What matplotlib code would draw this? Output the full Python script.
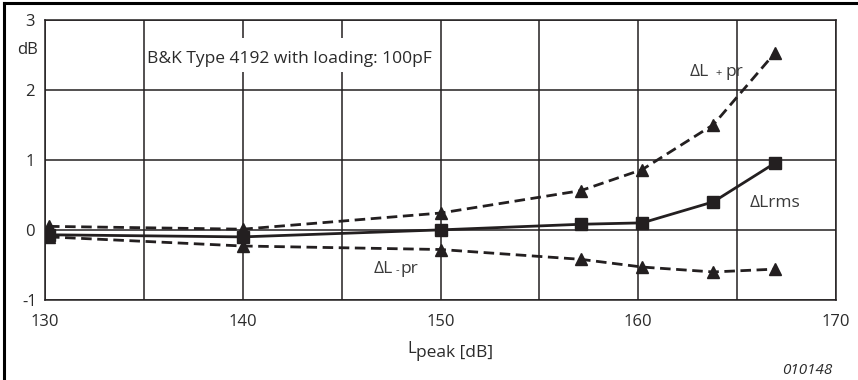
import matplotlib
matplotlib.use('Agg')
import matplotlib.pyplot as plt
from matplotlib.patches import Rectangle
from matplotlib.lines import Line2D

plt.rcParams.update({
    'font.family': ['Open Sans', 'DejaVu Sans'],
    'font.size': 12,
    'text.color': '#2a2a2a',
    'xtick.color': '#2a2a2a',
    'ytick.color': '#2a2a2a',
    'axes.unicode_minus': False,
})

# data
l_peak = [130.2, 140, 150, 157.1, 160.2, 163.8, 166.9]
d_rms = [-0.07, -0.1, 0.0, 0.08, 0.1, 0.4, 0.95]
d_plus_pr = [0.05, 0.01, 0.24, 0.56, 0.86, 1.5, 2.52]
d_minus_pr = [-0.1, -0.23, -0.28, -0.42, -0.53, -0.6, -0.56]

x_ticks = [130, 140, 150, 160, 170]
x_grid = [135, 145, 155, 165]
y_ticks = [-1, 0, 1, 2, 3]

W, H = 858, 380
fig = plt.figure(figsize=(W / 100, H / 100), dpi=100)
ax = fig.add_axes([45 / W, 1 - 300 / H, 791 / W, 280.5 / H])

ink = '#231f20'
ax.set_xlim(130, 170)
ax.set_ylim(-1, 3)
ax.set_xticks(x_ticks)
ax.set_xticks(x_grid, minor=True)
ax.set_yticks(y_ticks)
ax.tick_params(which='both', length=0)
ax.tick_params(axis='x', pad=10, labelsize=12)
ax.tick_params(axis='y', pad=11, labelsize=12)
for lab in ax.get_yticklabels():
    lab.set_horizontalalignment('center')
ax.grid(True, which='both', color=ink, linewidth=1.1)
ax.set_axisbelow(True)
for s in ax.spines.values():
    s.set_color(ink)
    s.set_linewidth(1.1)

# curves
ax.plot(l_peak, d_rms, color=ink, lw=2.0, marker='s', ms=9, zorder=4)
ax.plot(l_peak, d_plus_pr, color=ink, lw=2.0, dashes=(3.8, 2.0),
        marker='^', ms=9, zorder=4)
ax.plot(l_peak, d_minus_pr, color=ink, lw=2.0, dashes=(3.8, 2.0),
        marker='^', ms=9, zorder=4)

# header box
ax.add_patch(Rectangle((135.08, 2.25), 14.84, 0.49, facecolor='white',
                       edgecolor='none', zorder=2))
ax.text(135.15, 2.43, 'B&K Type 4192 with loading: 100pF', fontsize=12.5,
        va='center', ha='left', zorder=3)

# curve labels
lab_c = '#3a3a3a'
ax.text(162.6, 2.19, '\u0394L', fontsize=12.5, va='baseline', color=lab_c)
ax.text(164.05, 2.2, '+', fontsize=8, va='baseline', ha='center', color=lab_c)
ax.text(164.4, 2.19, 'pr', fontsize=12.5, va='baseline', color=lab_c)

ax.text(146.6, -0.62, '\u0394L', fontsize=12.5, va='baseline', color=lab_c)
ax.text(147.8, -0.61, '-', fontsize=8, va='baseline', ha='center', color=lab_c)
ax.text(148.0, -0.62, 'pr', fontsize=12.5, va='baseline', color=lab_c)

ax.text(165.65, 0.33, '\u0394Lrms', fontsize=12.5, va='baseline', color=lab_c)

# unit and axis label
fig.text(27 / W, 1 - 50 / H, 'dB', fontsize=12, ha='center', va='center')
fig.text(407 / W, 1 - 353 / H, 'L', fontsize=12, ha='left', va='baseline')
fig.text(416 / W, 1 - 357 / H, 'peak [dB]', fontsize=12.5, ha='left', va='baseline')
fig.text(832 / W, 1 - 370 / H, '010148', fontsize=11, style='italic',
         ha='right', va='center')

# frame lines (top and left)
fig.add_artist(Line2D([4 / W, 4 / W], [0, 1 - 3 / H], color='black', lw=2.2,
                      transform=fig.transFigure))
fig.add_artist(Line2D([4 / W, 1], [1 - 3 / H, 1 - 3 / H], color='black', lw=2.2,
                      transform=fig.transFigure))

fig.savefig('out.png', dpi=100, facecolor='white')
